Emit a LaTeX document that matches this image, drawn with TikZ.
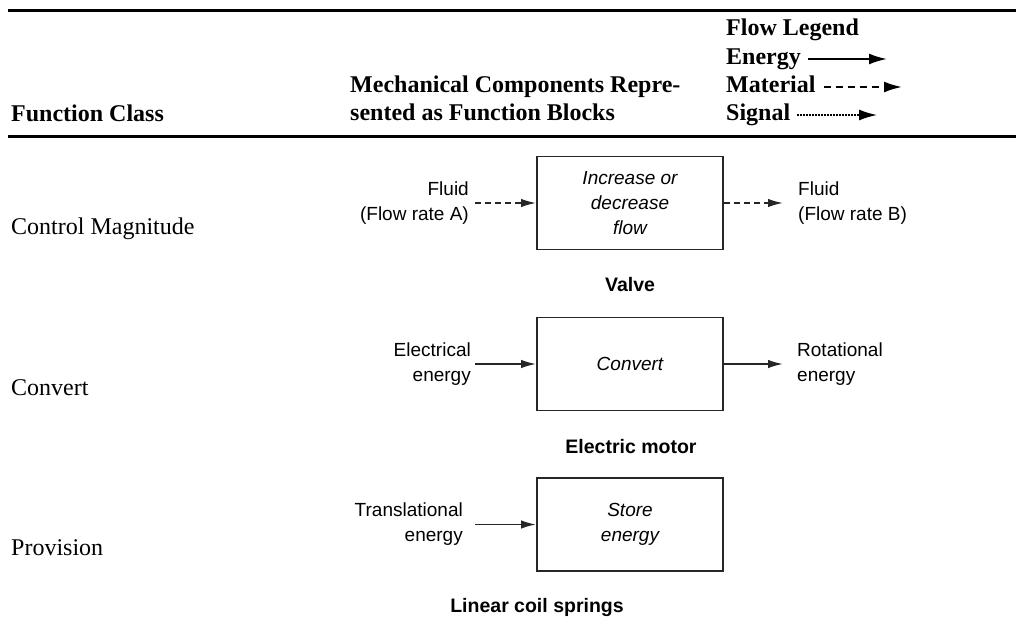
\documentclass[tikz,border=0pt]{standalone}
\usepackage{fontspec}
\setmainfont{Liberation Serif}
\setsansfont{Liberation Sans}
\usetikzlibrary{arrows.meta}
\begin{document}
\begin{tikzpicture}[x=1pt,y=-1pt,
  hdr/.style={font=\fontsize{24}{28}\selectfont\bfseries, inner sep=0pt, anchor=base west},
  cls/.style={font=\fontsize{24}{28}\selectfont, inner sep=0pt, anchor=base west},
  lbl/.style={font=\sffamily\fontsize{19}{25}\selectfont, inner sep=0pt},
  fbox/.style={draw=black!85, line width=1.9pt, minimum width=186pt, minimum height=93pt,
    font=\sffamily\itshape\fontsize{19}{25}\selectfont, align=center, inner sep=0pt},
  capt/.style={font=\sffamily\bfseries\fontsize{19.5}{24}\selectfont, inner sep=0pt, anchor=base},
  rulel/.style={line width=2.4pt},
  eflow/.style={line width=1.7pt, draw=black!85, -{Latex[length=15pt,width=8.5pt]}},
  mflow/.style={eflow, dash pattern=on 6pt off 4pt},
  legE/.style={line width=2pt, -{Latex[length=18pt,width=11pt]}},
  legM/.style={legE, dash pattern=on 7pt off 5pt},
  legS/.style={line width=1.5pt, dash pattern=on 1.5pt off 1.5pt, -{Latex[length=18pt,width=11pt]}},
]
\useasboundingbox (0,0) rectangle (1016,627);

% rules
\coordinate (r1a) at (8,10.5);
\coordinate (r1b) at (1016,10.5);
\coordinate (r2a) at (8,136.5);
\coordinate (r2b) at (1016,136.5);
\draw[rulel] (r1a) -- (r1b);
\draw[rulel] (r2a) -- (r2b);

% header
\node[hdr] (fc) at (11,121) {Function Class};
\node[hdr] (mc1) at (350,92) {Mechanical Components Repre-};
\node[hdr] (mc2) at (350,120) {sented as Function Blocks};
\node[hdr] (fl) at (726,35) {Flow Legend};
\node[hdr] (le) at (726,64) {Energy};
\node[hdr] (lm) at (726,92) {Material};
\node[hdr] (ls) at (726,120) {Signal};
\coordinate (leEnd) at (887,59);
\coordinate (lmEnd) at (902,87);
\coordinate (lsEnd) at (877,115);
\draw[legE] ([shift={(7pt,5pt)}]le.base east) -- (leEnd);
\draw[legM] ([shift={(8pt,5pt)}]lm.base east) -- (lmEnd);
\draw[legS] ([shift={(7pt,5pt)}]ls.base east) -- (lsEnd);

% function classes
\node[cls] (c1) at (11,234) {Control Magnitude};
\node[cls] (c2) at (11,395) {Convert};
\node[cls] (c3) at (11,555) {Provision};

% function blocks
\node[fbox] (valve) at (630,203) {Increase or\\decrease\\flow};
\node[fbox] (motor) at (630,364) {Convert};
\node[fbox] (spring) at (630,524.5) {Store\\energy};

% valve row
\node[lbl, anchor=east, align=right] (fin) at (469,203) {Fluid\\(Flow rate A)};
\node[lbl, anchor=west, align=left] (fout) at (798,203) {Fluid\\(Flow rate B)};
\draw[mflow] ([xshift=6pt]fin.east) -- (valve.west);
\draw[mflow] (valve.east) -- ([xshift=-15pt]fout.west);
\node[capt] (cv) at (630,291) {Valve};

% motor row
\node[lbl, anchor=east, align=right] (ein) at (471,364) {Electrical\\energy};
\node[lbl, anchor=west, align=left] (eout) at (797,364) {Rotational\\energy};
\draw[eflow] ([xshift=4pt]ein.east) -- (motor.west);
\draw[eflow] (motor.east) -- ([xshift=-14pt]eout.west);
\node[capt] (cm) at (631,453) {Electric motor};

% spring row
\node[lbl, anchor=east, align=right] (tin) at (463,524.5) {Translational\\energy};
\draw[eflow] ([xshift=12pt]tin.east) -- (spring.west);
\node[capt] (cs) at (537,612) {Linear coil springs};
\end{tikzpicture}
\end{document}
